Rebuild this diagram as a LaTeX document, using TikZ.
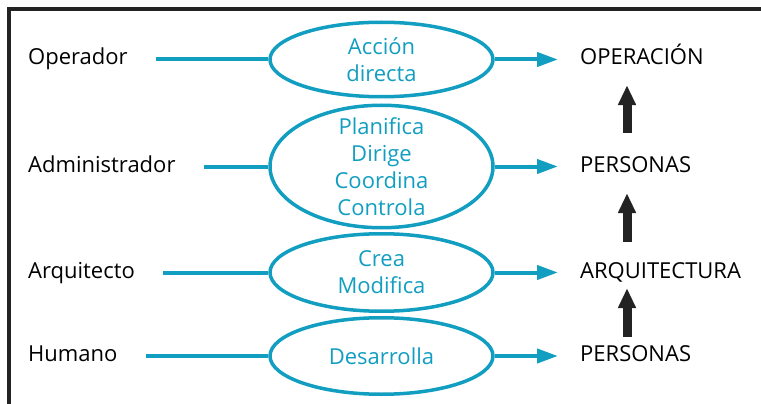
\documentclass[tikz,border=0pt]{standalone}
\usepackage{fontspec}
\setmainfont{Open Sans}
\usetikzlibrary{shapes.geometric,arrows.meta}
\definecolor{azul}{RGB}{18,158,192}
\definecolor{marco}{RGB}{35,35,35}

\begin{document}
\begin{tikzpicture}[x=1pt,y=-1pt,
	texto/.style={anchor=west,inner sep=0pt,text height=16.5pt,text depth=5.5pt,font=\fontsize{22}{27}\selectfont},
	accion/.style={ellipse,draw=azul,line width=3.5pt,text=azul,align=center,inner sep=0pt,minimum width=223pt,font=\fontsize{22}{27}\selectfont},
	linea/.style={draw=azul,line width=4pt,shorten <=28pt},
	flecha/.style={draw=azul,line width=4pt,-{Triangle[length=21pt,width=14pt]},shorten >=22pt},
	subir/.style={draw=marco,line width=9pt,-{Triangle[length=20pt,width=17pt]}}]
\useasboundingbox (0,0) rectangle (761,404);
\draw[marco, line width=4pt] (9,404) -- (9,9.5) -- (761,9.5);

% quien actua
\foreach \n/\y/\t in {op/59.5/Operador, ad/166.5/Administrador, ar/272.5/Arquitecto, hu/356/Humano}{
	\node[texto] (\n) at (28,\y){\t};
	}
% sobre que actua
\foreach \n/\y/\t in {r1/59.5/OPERACIÓN, r2/166.5/PERSONAS, r3/272.5/ARQUITECTURA, r4/356/PERSONAS}{
	\node[texto] (\n) at (580,\y){\t};
	}

\node[accion, minimum height=74.5pt] (e1) at (381.5,59.5){Acción\\directa};
\node[accion, minimum height=122.5pt, inner ysep=-8pt] (e2) at (381.5,166.5){Planifica\\Dirige\\Coordina\\Controla};
\node[accion, minimum height=77.5pt] (e3) at (381.5,272.5){Crea\\Modifica};
\node[accion, minimum height=76.5pt] (e4) at (381.5,356){Desarrolla};

\draw[linea] (op) -- (e1);
\draw[linea] (ad) -- (e2);
\draw[linea] (ar) -- (e3);
\draw[linea] (hu) -- (e4);
\draw[flecha] (e1) -- (r1);
\draw[flecha] (e2) -- (r2);
\draw[flecha] (e3) -- (r3);
\draw[flecha] (e4) -- (r4);

\coordinate (x) at (627,0);
\draw[subir, shorten <=22.5pt, shorten >=14.5pt] (r2.north -| x) -- (r1.south -| x);
\draw[subir, shorten <=19.5pt, shorten >=15.5pt] (r3.north -| x) -- (r2.south -| x);
\draw[subir, shorten <=8pt, shorten >=4.5pt] (r4.north -| x) -- (r3.south -| x);
%\draw (0,0) grid (761,404);
\end{tikzpicture}
\end{document}
